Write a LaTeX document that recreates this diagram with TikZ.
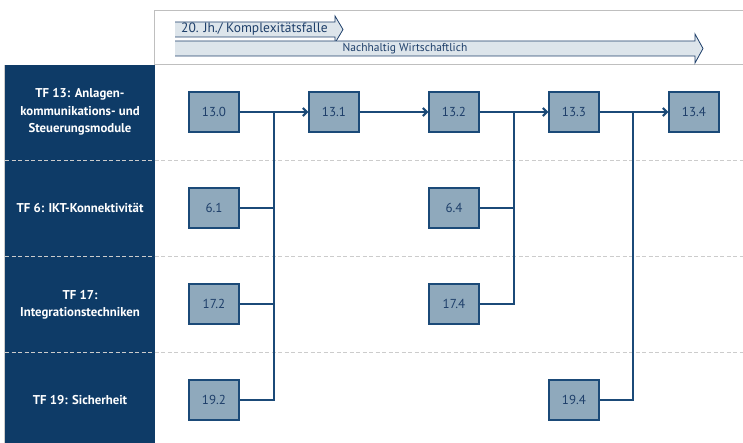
\documentclass[tikz,border=0pt]{standalone}
\usepackage{fontspec}
\setmainfont{PT Sans}
\usepackage{xcolor}
\usepackage{tikz}
\usetikzlibrary{arrows.meta,positioning}

\definecolor{tfnavy}{HTML}{0E3B67}
\definecolor{boxfill}{HTML}{8FA9BC}
\definecolor{boxline}{HTML}{1B4A78}
\definecolor{bandfill}{HTML}{DDE5EB}
\definecolor{bandink}{HTML}{1E3F6A}

\begin{document}
\begin{tikzpicture}[
  x=1pt, y=-1pt,
  >={Straight Barb[length=4pt,width=8pt]},
  msbox/.style={draw=boxline, fill=boxfill, line width=1.2pt, minimum width=50pt,
               minimum height=40pt, inner sep=0pt, text=bandink,
               font=\fontsize{13}{15}\selectfont},
  tflabel/.style={align=center, text=white, font=\bfseries\fontsize{12.8}{17.5}\selectfont},
  bandlabel/.style={text=bandink, inner sep=0pt, font=\fontsize{11.5}{13}\selectfont},
  feed/.style={draw=boxline, line width=1.5pt},
  trunk/.style={draw=boxline, line width=2.2pt, ->},
  sep/.style={draw=gray!40, dash pattern=on 4pt off 2.5pt, line width=0.7pt},
]
\useasboundingbox (0,0) rectangle (743,443);

% === Header frame ===
\draw[gray!50, line width=0.8pt] (743,10) -- (154,10) -- (154,64) -- (743,64);

% === Header bands ===
\fill[bandfill] (175,22) -- (335,22) -- (335,16) -- (343,29.5) -- (335,43) -- (335,37) -- (175,37) -- cycle;
\draw[bandink, line width=0.8pt] (175,22) -- (335,22) -- (335,16) -- (343,29.5) -- (335,43) -- (335,37) -- (175,37);
\node[bandlabel, anchor=west, font=\fontsize{13.5}{15}\selectfont] (era) at (181,29.5) {20. Jh./ Komplexitätsfalle};

\fill[bandfill] (175,41) -- (695,41) -- (695,34) -- (703,48.5) -- (695,63) -- (695,56) -- (175,56) -- cycle;
\draw[bandink, line width=0.8pt] (175,41) -- (695,41) -- (695,34) -- (703,48.5) -- (695,63) -- (695,56) -- (175,56);
\node[bandlabel] (goal) at (405,48.5) {Nachhaltig Wirtschaftlich};

% === Left panel ===
\fill[tfnavy] (5,65) rectangle (155,443);
\draw[gray!40, line width=0.8pt] (4,65) -- (4,443);

% === Row separators ===
\foreach \y in {160,256,352} {
  \draw[sep] (5,\y) -- (743,\y);
}

% === Row labels ===
\node[tflabel] (tf13) at (80,112) {TF 13: Anlagen-\\kommunikations- und\\Steuerungsmodule};
\node[tflabel] (tf6)  at (80,208) {TF 6: IKT-Konnektivität};
\node[tflabel] (tf17) at (80,305) {TF 17:\\Integrationstechniken};
\node[tflabel] (tf19) at (80,400) {TF 19: Sicherheit};

% === Milestones ===
\foreach \id/\lab/\x/\y in {b130/13.0/214/112, b131/13.1/334/112, b132/13.2/454/112,
                            b133/13.3/574/112, b134/13.4/694/112,
                            b61/6.1/214/208, b64/6.4/454/208,
                            b172/17.2/214/304, b174/17.4/454/304,
                            b192/19.2/214/400, b194/19.4/574/400} {
  \node[msbox] (\id) at (\x,\y) {\lab};
}

% === Junctions ===
\coordinate (j1) at (274,112);
\coordinate (j2) at (514,112);
\coordinate (j3) at (633,112);

% === Connectors ===
\draw[feed] (b130.east) -- (j1);
\draw[feed] (b61.east) -| (j1);
\draw[feed] (b172.east) -| (j1);
\draw[feed] (b192.east) -| (j1);
\draw[trunk] (j1) -- (b131.west);

\draw[trunk] (b131.east) -- (b132.west);

\draw[feed] (b132.east) -- (j2);
\draw[feed] (b64.east) -| (j2);
\draw[feed] (b174.east) -| (j2);
\draw[trunk] (j2) -- (b133.west);

\draw[feed] (b133.east) -- (j3);
\draw[feed] (b194.east) -| (j3);
\draw[trunk] (j3) -- (b134.west);

\end{tikzpicture}
\end{document}
